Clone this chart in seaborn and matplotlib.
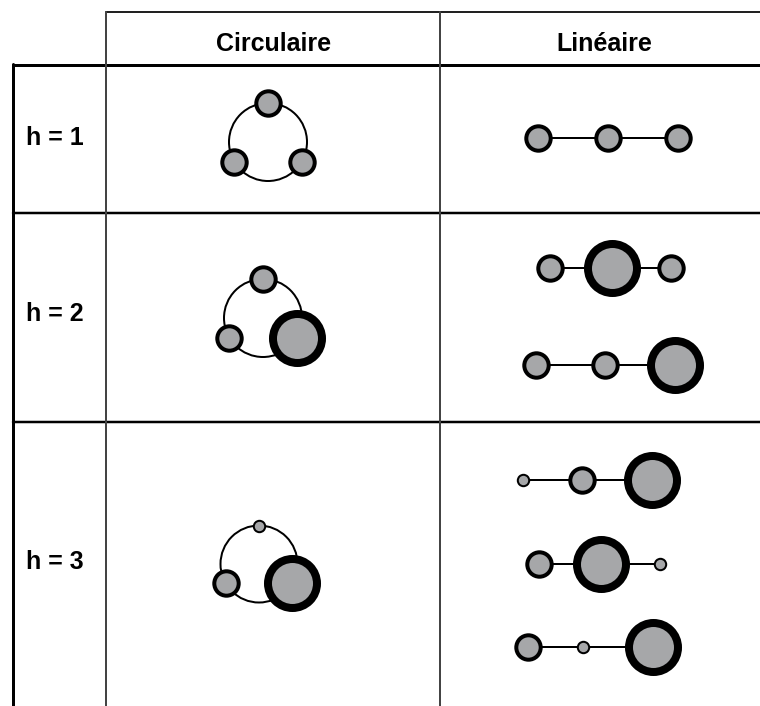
import numpy as np
import pandas as pd
import matplotlib
matplotlib.use("Agg")
import matplotlib.pyplot as plt
from matplotlib.patches import Circle
import seaborn as sns

sns.set_style("white")
plt.rcParams['font.family'] = ['Liberation Sans', 'DejaVu Sans']
plt.rcParams['text.color'] = 'black'

# table text
col_labels = ["Circulaire", "Linéaire"]
row_labels = ["h = 1", "h = 2", "h = 3"]

# node kinds: 1 = petit, 2 = moyen, 3 = gros
# circular: top, bottom-left, bottom-right
circ_nodes = [[2, 2, 2], [2, 2, 3], [1, 2, 3]]
# linear chains, left to right
lin_nodes = [
    [[2, 2, 2]],
    [[2, 3, 2], [2, 2, 3]],
    [[1, 2, 3], [2, 3, 1], [2, 1, 3]],
]
# x of each node along the chains (px)
lin_x = [
    [[538, 608, 678]],
    [[550, 612, 671], [536, 605, 675]],
    [[523, 582, 652], [539, 601, 660], [528, 583, 653]],
]

# layout (pixels)
W, H = 760, 706
row_edges = [64.5, 212.5, 421.5, H]
col_x = [13, 106, 440]
ring_center = [(268, 142), (263, 318), (259, 564)]
ring_r = [39, 39, 38.5]
lin_y = [[138], [268, 365], [480, 564, 647]]
label_base = [145, 321, 569]

gray = "#a6a7a9"
px = 0.72  # points per pixel at dpi 100
# kind -> (scatter size, edge width)
node_style = {
    1: ((2 * 5.7 * px) ** 2, 2.0 * px),
    2: ((2 * 12.2 * px) ** 2, 4.0 * px),
    3: ((2 * 24.5 * px) ** 2, 8.0 * px),
}


def main():
    fig = plt.figure(figsize=(W / 100, H / 100), dpi=100)
    ax = fig.add_axes([0, 0, 1, 1])

    rows = []
    # circular diagrams
    for i, kinds in enumerate(circ_nodes):
        cx, cy = ring_center[i]
        r = ring_r[i]
        ax.add_patch(Circle((cx, cy), r, fill=False, ec="black", lw=2 * px, zorder=2))
        for k, ang in zip(kinds, [90, 210, 330]):
            a = np.deg2rad(ang)
            rows.append({"x": cx + r * np.cos(a), "y": cy - r * np.sin(a), "kind": k})

    # linear chains
    for i, chains in enumerate(lin_nodes):
        for j, kinds in enumerate(chains):
            xs = lin_x[i][j]
            y = lin_y[i][j]
            sns.lineplot(x=xs, y=[y] * len(xs), ax=ax, sort=False, estimator=None,
                         color="black", lw=2 * px, zorder=2)
            for k, x in zip(kinds, xs):
                rows.append({"x": x, "y": y, "kind": k})

    df = pd.DataFrame(rows)
    for k, (s, lw) in node_style.items():
        sns.scatterplot(data=df[df["kind"] == k], x="x", y="y", ax=ax, s=s,
                        color=gray, edgecolor="black", linewidth=lw,
                        zorder=3, legend=False)

    # table lines
    ax.plot([col_x[1], W], [12, 12], color="#222222", lw=2 * px)
    ax.plot([col_x[0], W], [row_edges[0]] * 2, color="black", lw=3 * px)
    for y in row_edges[1:3]:
        ax.plot([col_x[0], W], [y, y], color="black", lw=2.5 * px)
    ax.plot([col_x[0]] * 2, [row_edges[0] - 1, H], color="black", lw=3 * px)
    for x in col_x[1:]:
        ax.plot([x, x], [12, H], color="#444444", lw=2 * px)

    # text
    for x, lab in zip([273.5, 604], col_labels):
        ax.text(x, 51, lab, ha="center", va="baseline", fontsize=18,
                fontweight="bold", color="black")
    for yb, lab in zip(label_base, row_labels):
        ax.text(55, yb, lab, ha="center", va="baseline", fontsize=18,
                fontweight="bold", color="black")

    ax.set_xlim(0, W)
    ax.set_ylim(H, 0)
    ax.set_xlabel("")
    ax.set_ylabel("")
    ax.axis("off")
    fig.savefig("out.png", dpi=100)


if __name__ == '__main__':
    main()
